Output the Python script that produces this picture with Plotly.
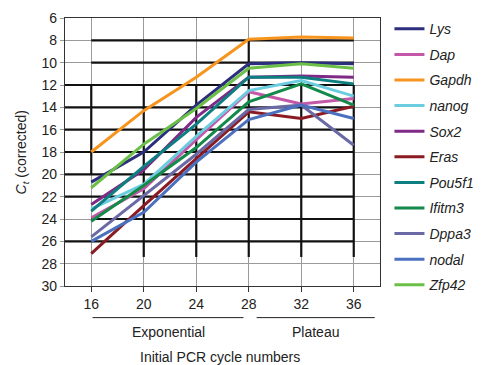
import plotly.graph_objects as go

cycles = [16, 20, 24, 28, 32, 36]
genes = ["Lys", "Dap", "Gapdh", "nanog", "Sox2", "Eras", "Pou5f1", "Ifitm3", "Dppa3", "nodal", "Zfp42"]

Lys = [20.7, 18.0, 13.8, 10.1, 10.0, 10.1]
Dap = [23.9, 21.3, 16.9, 12.6, 13.7, 13.2]
Gapdh = [18.0, 14.3, 11.3, 7.9, 7.7, 7.8]
nanog = [23.1, 20.9, 16.6, 12.5, 11.6, 13.0]
Sox2 = [22.7, 19.6, 14.9, 11.3, 11.2, 11.3]
Eras = [27.1, 22.8, 18.6, 14.4, 15.0, 13.9]
Pou5f1 = [23.3, 19.3, 15.5, 11.3, 11.3, 11.9]
Ifitm3 = [24.2, 21.0, 17.6, 13.5, 11.9, 13.8]
Dppa3 = [25.6, 21.9, 18.2, 14.2, 13.8, 17.4]
nodal = [26.0, 23.4, 18.9, 15.1, 13.8, 15.0]
Zfp42 = [21.2, 17.3, 14.1, 10.5, 10.1, 10.5]

series = [Lys, Dap, Gapdh, nanog, Sox2, Eras, Pou5f1, Ifitm3, Dppa3, nodal, Zfp42]
colors = ["#2b2e7c", "#c457a7", "#f7941d", "#6dcde0", "#7e2a86", "#8b1b22",
          "#0e7f80", "#138a4a", "#6a69a6", "#4a70bf", "#6bbf47"]

y_ticks = list(range(6, 31, 2))
x_ticks = cycles
phase_labels = ["Exponential", "Plateau"]
x_title = "Initial PCR cycle numbers"
y_title = "<i>C</i><sub><i>t</i></sub> (corrected)"

FONT = "Liberation Sans, Arial, sans-serif"

fig = go.Figure()
for name, vals, col in zip(genes, series, colors):
    fig.add_trace(go.Scatter(
        x=cycles, y=vals, mode="lines", name=f"<i>{name}</i>",
        line=dict(color=col, width=3), legendgroup=name,
    ))

shapes = []
# dark overlay grid segments
for yv in [8, 10]:
    shapes.append(dict(type="line", xref="x", yref="y", x0=16, x1=36, y0=yv, y1=yv,
                       line=dict(color="#111", width=2.2), layer="between"))
for yv in [12, 14, 16, 18, 20, 22, 26]:
    shapes.append(dict(type="line", xref="x", yref="y", x0=14, x1=36, y0=yv, y1=yv,
                       line=dict(color="#111", width=2.2), layer="between"))
shapes.append(dict(type="line", xref="x", yref="y", x0=16, x1=36, y0=24, y1=24,
                   line=dict(color="#111", width=2.2), layer="between"))
for xv in [20, 24, 32, 36]:
    shapes.append(dict(type="line", xref="x", yref="y", x0=xv, x1=xv, y0=12, y1=27.4,
                       line=dict(color="#111", width=2.2), layer="between"))
shapes.append(dict(type="line", xref="x", yref="y", x0=28, x1=28, y0=8, y1=27.4,
                   line=dict(color="#111", width=2.2), layer="between"))
shapes.append(dict(type="line", xref="x", yref="y", x0=16, x1=16, y0=12, y1=20,
                   line=dict(color="#111", width=2.2), layer="between"))
# phase underlines below axis
shapes.append(dict(type="line", xref="x", yref="paper", x0=16.1, x1=27.6, y0=-0.118, y1=-0.118,
                   line=dict(color="#222", width=1)))
shapes.append(dict(type="line", xref="x", yref="paper", x0=28.6, x1=37.6, y0=-0.118, y1=-0.118,
                   line=dict(color="#222", width=1)))

annotations = [
    dict(x=21.9, y=-0.135, xref="x", yref="paper", text=phase_labels[0], showarrow=False,
         yanchor="top", font=dict(size=14, color="#222", family=FONT)),
    dict(x=33.1, y=-0.135, xref="x", yref="paper", text=phase_labels[1], showarrow=False,
         yanchor="top", font=dict(size=14, color="#222", family=FONT)),
    dict(x=0.493, y=-0.228, xref="paper", yref="paper", text=x_title, showarrow=False,
         xanchor="center", yanchor="top", font=dict(size=14, color="#222", family=FONT)),
    dict(x=-0.135, y=0.5, xref="paper", yref="paper", text=y_title, showarrow=False,
         xanchor="center", yanchor="middle", textangle=-90,
         font=dict(size=14, color="#222", family=FONT)),
]

fig.update_layout(
    width=484, height=365,
    margin=dict(l=65, r=104, t=18, b=79, autoexpand=False),
    paper_bgcolor="white", plot_bgcolor="white",
    font=dict(family=FONT, size=14, color="#222"),
    shapes=shapes, annotations=annotations,
    showlegend=True,
    legend=dict(x=1.03, xanchor="left", y=1.018, yanchor="top",
                font=dict(size=14, color="#222", family=FONT), maxheight=400,
                tracegroupgap=4.4, bgcolor="rgba(0,0,0,0)"),
)
fig.update_xaxes(range=[14, 38], tickvals=x_ticks, ticktext=[str(v) for v in x_ticks],
                 showgrid=True, gridcolor="#9a9a9a", gridwidth=1,
                 showline=True, linecolor="#333", linewidth=1.2, mirror=True,
                 ticks="outside", ticklen=5, tickcolor="#333", automargin=False,
                 tickfont=dict(size=14), zeroline=False)
fig.update_yaxes(range=[30, 6], tickvals=y_ticks, showgrid=True, gridcolor="#9a9a9a", gridwidth=1,
                 showline=True, linecolor="#333", linewidth=1.2, mirror=True,
                 ticks="outside", ticklen=4, tickcolor="#999", automargin=False,
                 tickfont=dict(size=14), zeroline=False)

fig.write_html("out.html", config={"displayModeBar": False},
               post_script="document.body.style.margin='0';document.body.style.padding='0';")
